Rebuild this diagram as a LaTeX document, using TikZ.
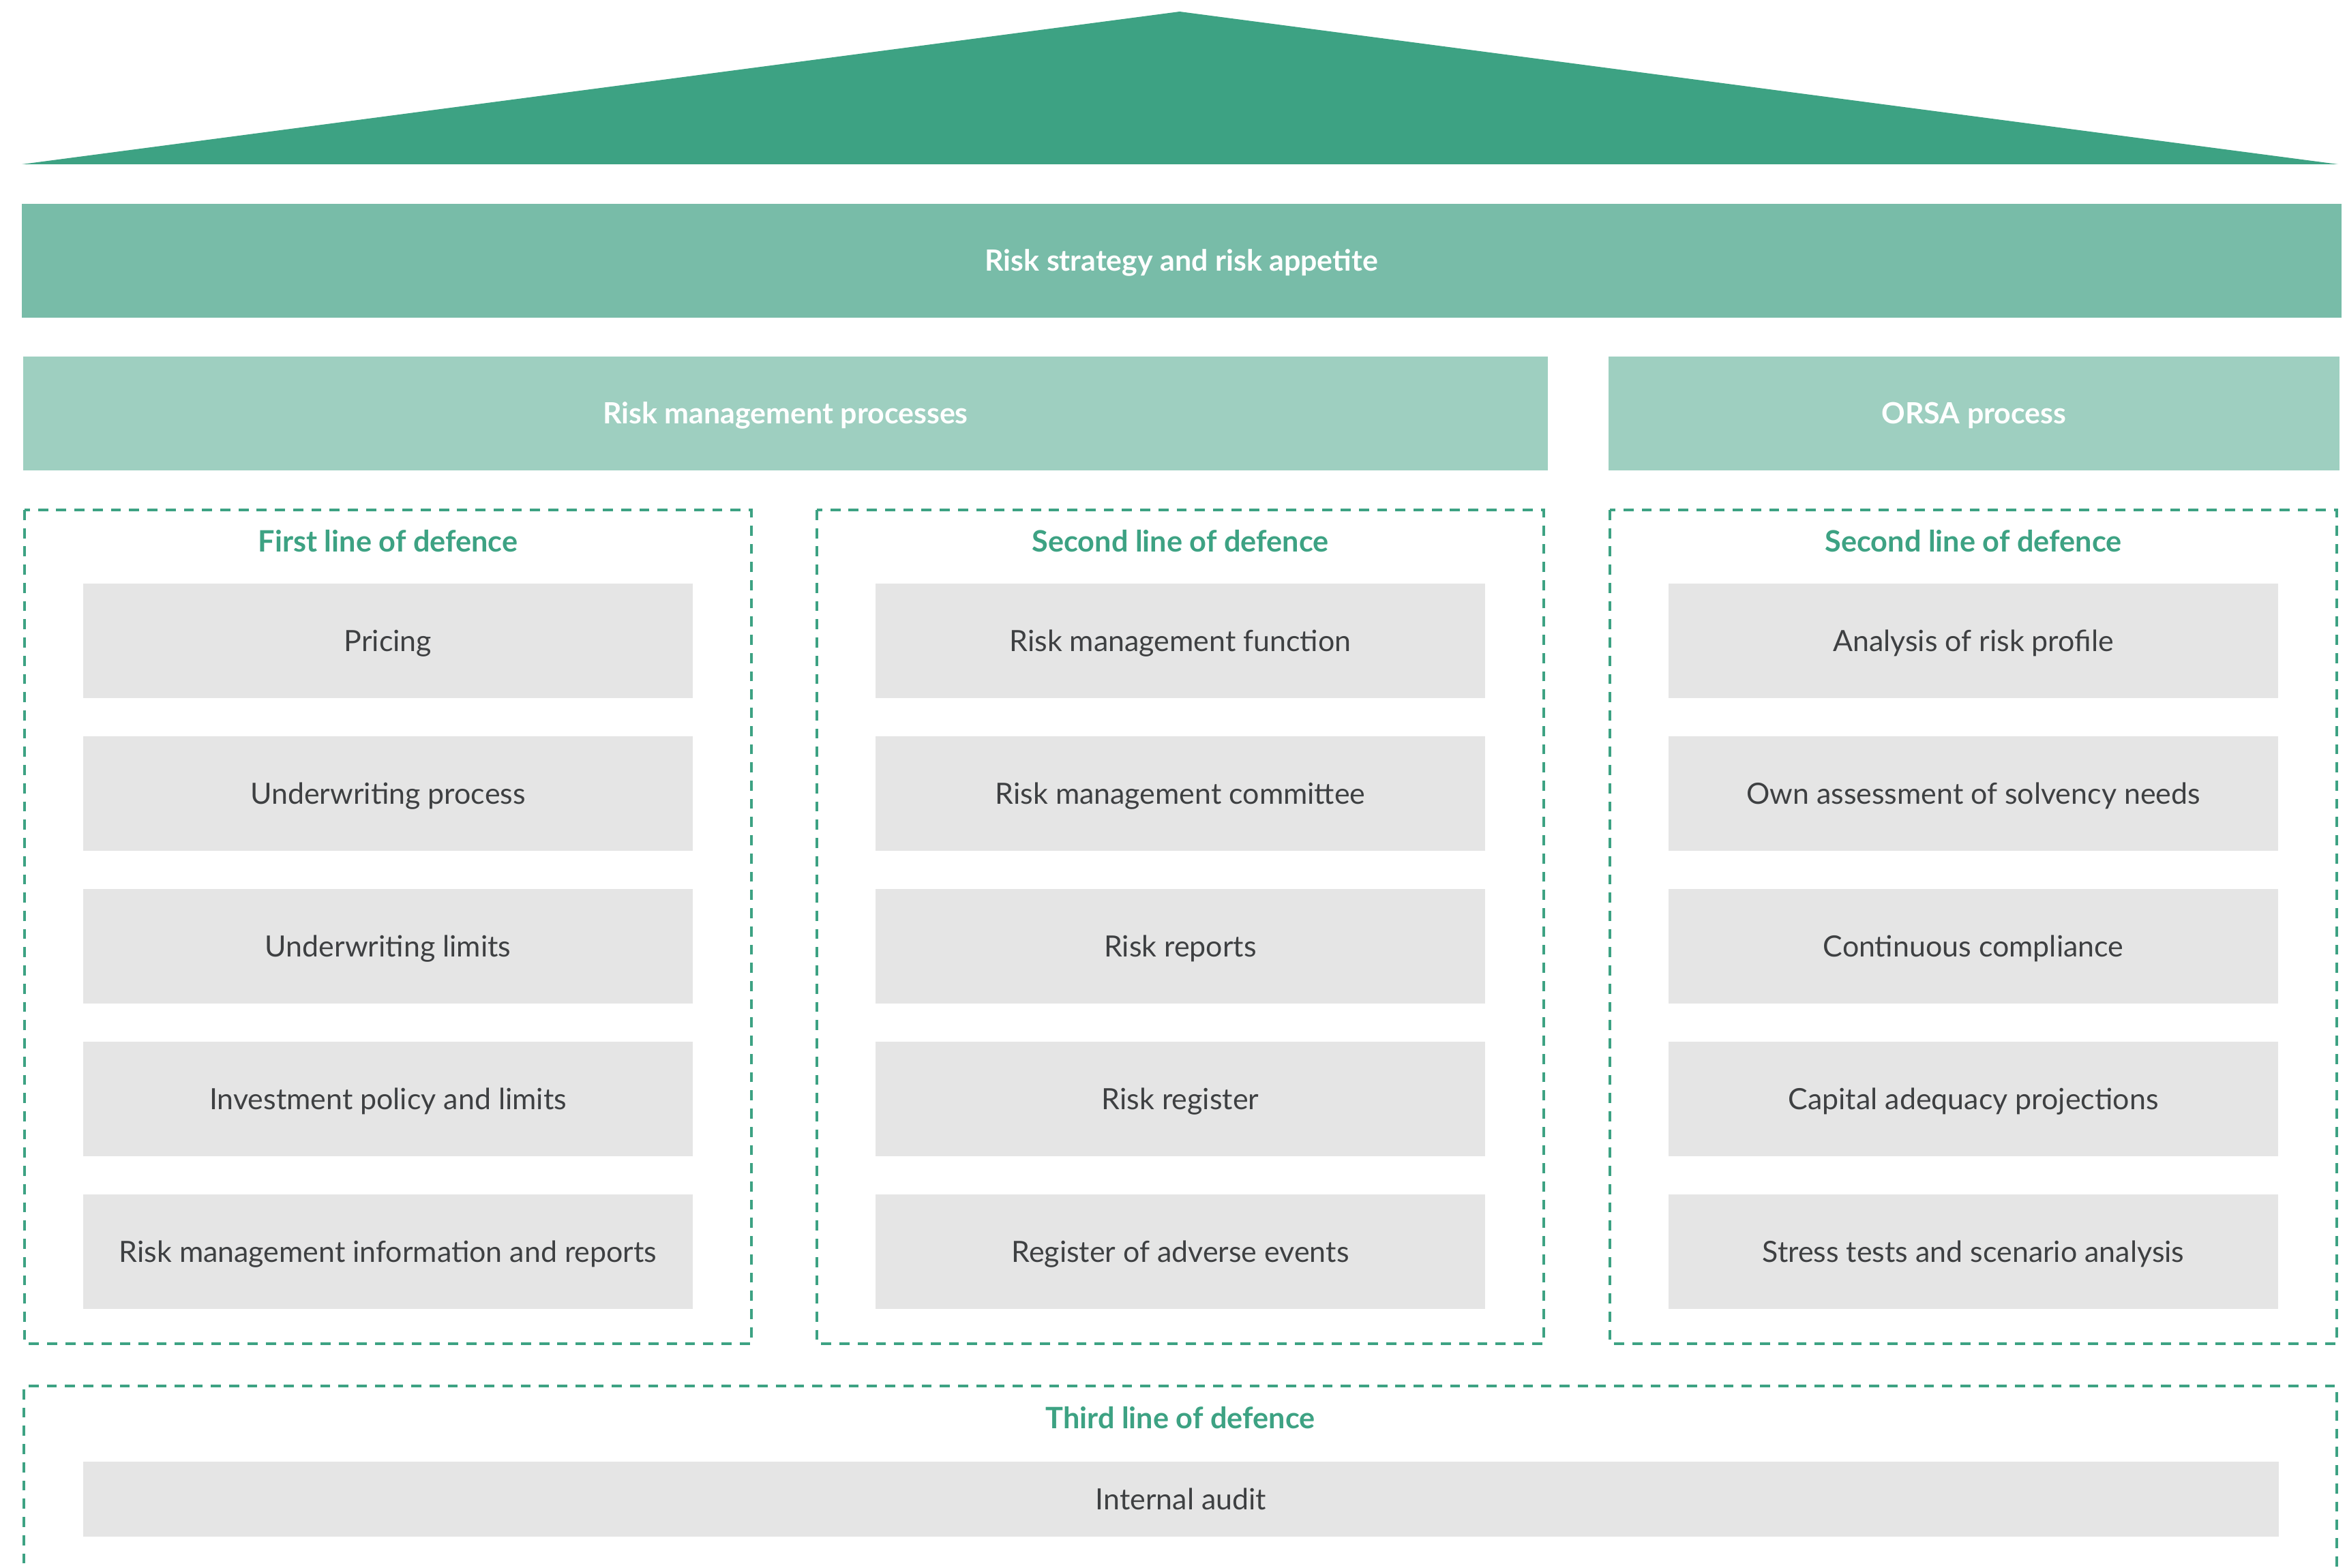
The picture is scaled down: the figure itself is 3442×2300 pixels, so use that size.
\documentclass[tikz,border=0pt]{standalone}
\usepackage{fontspec}
\setmainfont{Lato}
\usepackage{tikz}
\usetikzlibrary{positioning}
\definecolor{roofgreen}{HTML}{3DA283}
\definecolor{strategygreen}{HTML}{78BCA8}
\definecolor{processgreen}{HTML}{9ECFC0}
\definecolor{itemgray}{HTML}{E5E5E5}
\definecolor{itemtext}{HTML}{3E4042}
\tikzset{
    bar/.style={fill=#1, minimum height=1.67cm, inner sep=0pt, text height=8.8pt, text depth=0pt, text=white, font=\fontsize{12.2}{15}\selectfont\bfseries},
    itembox/.style={fill=itemgray, minimum width=8.93cm, minimum height=1.67cm, inner sep=0pt, text height=8.8pt, text depth=0pt, text=itemtext, font=\fontsize{12.2}{15}\selectfont},
    defencebox/.style={draw=roofgreen, line width=1.1pt, dash pattern=on 4.2pt off 3.4pt},
    defencetitle/.style={text=roofgreen, font=\fontsize{12.3}{15}\selectfont\bfseries}
}

\begin{document}
\begin{tikzpicture}[x=0.01cm, y=-0.01cm]
    \useasboundingbox (0,0) rectangle (3442,2300);
    % Roof
    \fill[roofgreen] (32,241) -- (1730,17) -- (3429,241) -- cycle;
    % Strategy and process bars
    \node[bar=strategygreen, minimum width=34cm, anchor=north west] (strategy) at (31,298) {Risk strategy and risk appetite};
    \node[bar=processgreen, minimum width=22.35cm, anchor=north west] (processes) at (33,522) {Risk management processes};
    \node[bar=processgreen, minimum width=10.72cm, anchor=north west] (orsa) at (2358,522) {ORSA process};
    % Lines of defence
    \foreach \col/\cx/\ttl in {first/569/First line of defence, second/1731/Second line of defence, orsaline/2894/Second line of defence} {
        \draw[defencebox] (\cx-533,748) rectangle (\cx+533,1971);
        \node[defencetitle, anchor=base] (\col-title) at (\cx,809) {\ttl};
    }
    \foreach \i/\txt in {1/Pricing, 2/Underwriting process, 3/Underwriting limits, 4/Investment policy and limits, 5/Risk management information and reports}
        \node[itembox] (first-\i) at (569, 716+224*\i) {\txt};
    \foreach \i/\txt in {1/Risk management function, 2/Risk management committee, 3/Risk reports, 4/Risk register, 5/Register of adverse events}
        \node[itembox] (second-\i) at (1731, 716+224*\i) {\txt};
    \foreach \i/\txt in {1/Analysis of risk profile, 2/Own assessment of solvency needs, 3/Continuous compliance, 4/Capital adequacy projections, 5/Stress tests and scenario analysis}
        \node[itembox] (orsaline-\i) at (2894, 716+224*\i) {\txt};
    % Third line, open at the bottom
    \draw[defencebox] (35,2320) -- (35,2033) -- (3427,2033) -- (3427,2320);
    \node[defencetitle, anchor=base] (third-title) at (1731,2095) {Third line of defence};
    \node[itembox, minimum width=32.18cm, minimum height=1.1cm] (audit) at (1732,2199) {Internal audit};
\end{tikzpicture}
\end{document}
